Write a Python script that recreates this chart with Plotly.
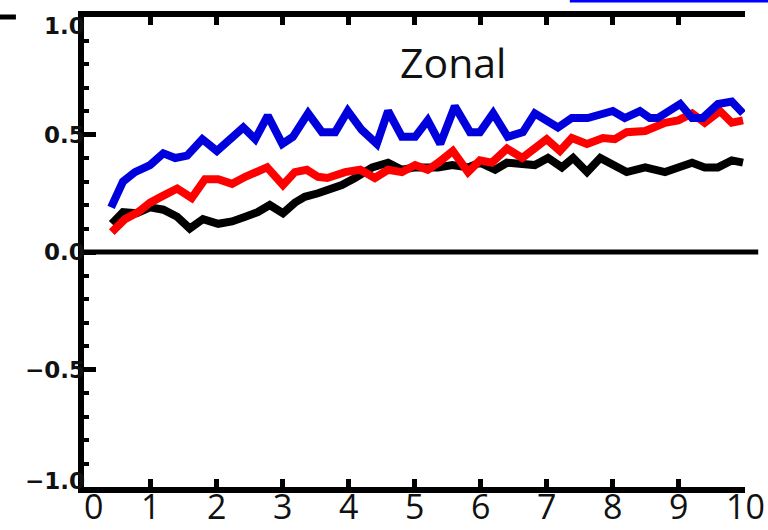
import plotly.graph_objects as go

# ---- data ----
blue_x = [0.41, 0.59, 0.77, 1.0, 1.2, 1.38, 1.56, 1.79, 2.01, 2.41, 2.59, 2.78, 3.0, 3.16, 3.39, 3.6, 3.8, 3.99,
          4.2, 4.43, 4.6, 4.81, 5.01, 5.2, 5.39, 5.61, 5.84, 5.99, 6.19, 6.41, 6.64, 6.82, 7.17, 7.38, 7.62,
          8.0, 8.18, 8.41, 8.56, 8.68, 9.02, 9.2, 9.36, 9.59, 9.8, 9.97]
blue_y = [0.19, 0.30, 0.34, 0.37, 0.42, 0.40, 0.41, 0.48, 0.43, 0.53, 0.48, 0.58, 0.46, 0.49, 0.59, 0.51, 0.51, 0.60,
          0.52, 0.46, 0.60, 0.49, 0.49, 0.56, 0.46, 0.62, 0.51, 0.51, 0.59, 0.49, 0.51, 0.59, 0.53, 0.57, 0.57,
          0.60, 0.57, 0.60, 0.57, 0.57, 0.63, 0.57, 0.57, 0.63, 0.64, 0.59]

red_x = [0.42, 0.62, 0.82, 1.0, 1.2, 1.41, 1.63, 1.83, 2.03, 2.24, 2.44, 2.77, 3.01, 3.19, 3.37, 3.54, 3.68, 3.95,
         4.18, 4.4, 4.6, 4.81, 5.01, 5.2, 5.36, 5.58, 5.81, 5.99, 6.17, 6.4, 6.63, 6.82, 7.0, 7.2, 7.38, 7.61,
         7.85, 8.03, 8.21, 8.49, 8.79, 8.99, 9.2, 9.39, 9.62, 9.8, 9.97]
red_y = [0.085, 0.14, 0.17, 0.21, 0.24, 0.27, 0.23, 0.31, 0.31, 0.29, 0.32, 0.36, 0.285, 0.34, 0.35, 0.32, 0.315, 0.34,
         0.35, 0.315, 0.35, 0.34, 0.37, 0.35, 0.38, 0.43, 0.34, 0.39, 0.38, 0.44, 0.40, 0.44, 0.48, 0.43, 0.485, 0.46,
         0.485, 0.48, 0.51, 0.515, 0.55, 0.56, 0.59, 0.55, 0.60, 0.55, 0.56]

black_x = [0.42, 0.59, 0.80, 1.0, 1.2, 1.41, 1.60, 1.80, 2.03, 2.24, 2.44, 2.63, 2.81, 3.01, 3.19, 3.34, 3.54, 3.69,
           3.90, 4.1, 4.36, 4.6, 4.81, 5.01, 5.2, 5.36, 5.57, 5.81, 5.99, 6.22, 6.4, 6.63, 6.82, 7.02, 7.23, 7.4,
           7.61, 7.81, 8.0, 8.21, 8.49, 8.79, 8.99, 9.2, 9.39, 9.59, 9.8, 9.97]
black_y = [0.12, 0.17, 0.165, 0.19, 0.18, 0.15, 0.10, 0.14, 0.12, 0.13, 0.15, 0.17, 0.20, 0.165, 0.21, 0.235, 0.25, 0.265,
           0.285, 0.315, 0.36, 0.38, 0.35, 0.36, 0.36, 0.36, 0.37, 0.36, 0.38, 0.35, 0.38, 0.37, 0.37, 0.40, 0.36, 0.40,
           0.34, 0.40, 0.37, 0.34, 0.36, 0.34, 0.36, 0.38, 0.36, 0.36, 0.39, 0.38]

x_ticks = list(range(0, 11))
x_tick_text = [str(v) for v in x_ticks]
y_ticks = [-1.0, -0.5, 0.0, 0.5, 1.0]
y_tick_text = ["\u22121.0", "\u22120.5", "0.0", "0.5", "1.0"]
title_text = "Zonal"

fig = go.Figure()
for xs, ys, col in [(black_x, black_y, "#000000"), (red_x, red_y, "#ff0000"), (blue_x, blue_y, "#0000dd")]:
    fig.add_trace(go.Scatter(x=xs, y=ys, mode="lines", line=dict(color=col, width=8),
                             showlegend=False, hoverinfo="skip"))

fig.update_layout(
    width=768, height=530,
    margin=dict(l=84, r=23, t=17, b=43),
    plot_bgcolor="white", paper_bgcolor="white",
    showlegend=False,
    xaxis=dict(range=[0, 10], tickvals=x_ticks, showticklabels=False,
               automargin=False,
               showgrid=False, zeroline=False,
               showline=True, linecolor="black", linewidth=6, mirror="ticks",
               ticks="inside", ticklen=8, tickwidth=5, tickcolor="black"),
    yaxis=dict(range=[-1, 1], tickvals=y_ticks, showticklabels=False,
               automargin=False,
               showgrid=False, zeroline=False,
               showline=True, linecolor="black", linewidth=6, mirror=False,
               ticks="inside", ticklen=12, tickwidth=5, tickcolor="black",
               minor=dict(dtick=0.1, ticks="inside", ticklen=5, tickwidth=4, tickcolor="black")),
)

# x tick labels placed close under the axis
for v, t in zip(x_ticks, x_tick_text):
    fig.add_annotation(x=v, y=0.012, xref="x", yref="paper", text=t, showarrow=False,
                       xanchor="left" if v == x_ticks[0] else "center", yanchor="top",
                       xshift=-2 if v == x_ticks[0] else 0,
                       font=dict(family="Open Sans", size=34, color="#111111"))
# y tick labels close to the axis
for v, t in zip(y_ticks, y_tick_text):
    if v == max(y_ticks):
        anchor, ys = "top", 6
    elif v == min(y_ticks):
        anchor, ys = "bottom", -9
    else:
        anchor, ys = "middle", 0
    fig.add_annotation(x=-0.004, y=v, xref="paper", yref="y", text=t, showarrow=False,
                       xanchor="right", yanchor=anchor, xshift=6, yshift=ys,
                       font=dict(family="DejaVu Sans", size=23, color="#111111", weight="bold"))

# zero line extending slightly beyond the plot
fig.add_shape(type="line", xref="paper", yref="y", x0=0, x1=1.02, y0=0, y1=0,
              line=dict(color="black", width=5))
# stray artifacts in the reference
fig.add_shape(type="line", xref="paper", yref="paper", x0=0.735, x1=1.04, y0=1.034, y1=1.034,
              line=dict(color="#0000ff", width=3))
fig.add_shape(type="line", xref="paper", yref="paper", x0=-0.13, x1=-0.103, y0=1.0, y1=1.0,
              line=dict(color="black", width=5))

fig.add_annotation(x=5.58, y=0.81, xref="x", yref="y", text=title_text, showarrow=False,
                   font=dict(family="Open Sans", size=41, color="#111111"))

fig.write_html("out.html")
